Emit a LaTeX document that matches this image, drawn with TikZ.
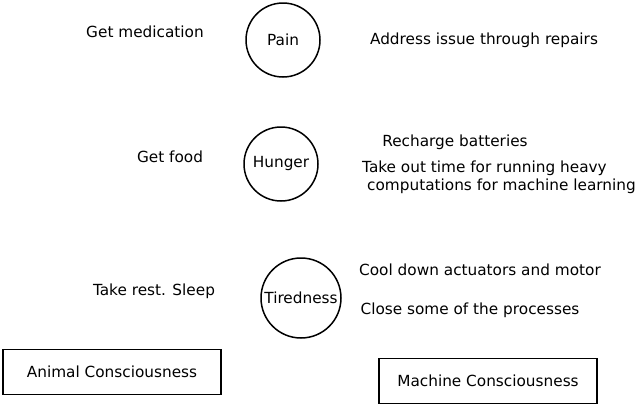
\documentclass[tikz,border=0pt]{standalone}
\usepackage{fontspec}
\setmainfont{DejaVu Sans}
\begin{document}
\begin{tikzpicture}[x=1pt,y=-1pt,
  st/.style={circle,draw,line width=1.5pt,minimum size=74pt,inner sep=0pt,font=\fontsize{15.3}{17}\selectfont},
  lbl/.style={font=\fontsize{15.3}{17}\selectfont,inner sep=0pt},
  bx/.style={draw,line width=1.5pt,minimum width=218pt,minimum height=45pt,font=\fontsize{15.3}{17}\selectfont}]
\useasboundingbox (0,0) rectangle (640,407);
\node[st] (pain) at (283,40) {Pain};
\node[st] (hunger) at (281,164) {Hunger};
\node[st,minimum size=80pt] (tired) at (301,298) {Tiredness};
\node[lbl] (a1) at (145,32) {Get medication};
\node[lbl] (a2) at (170,157) {Get food};
\node[lbl] (a3) at (154,291) {Take rest. Sleep};
\node[lbl] (m1) at (484,40) {Address issue through repairs};
\node[lbl] (m2) at (455,142) {Recharge batteries};
\node[lbl,anchor=west] (m3) at (362,168) {Take out time for running heavy};
\node[lbl,anchor=west] (m4) at (367,186) {computations for machine learning};
\node[lbl,anchor=west] (m5) at (359,270) {Cool down actuators and motor};
\node[lbl] (m6) at (470,310) {Close some of the processes};
\node[bx] (ac) at (112,372) {Animal Consciousness};
\node[bx] (mc) at (488,381) {Machine Consciousness};
\end{tikzpicture}
\end{document}
